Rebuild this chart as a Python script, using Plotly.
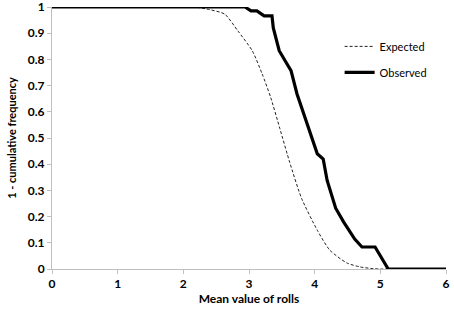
import plotly.graph_objects as go

# Expected curve
exp_x = [0, 1, 2, 2.2, 2.4, 2.63, 2.83, 3.05, 3.2, 3.33, 3.47, 3.62, 3.8, 4.04, 4.23, 4.49, 4.69, 4.9, 5, 6]
exp_y = [1, 1, 1, 0.999, 0.99, 0.973, 0.909, 0.833, 0.745, 0.655, 0.536, 0.407, 0.27, 0.148, 0.072, 0.023, 0.008, 0.001, 0, 0]

# Observed curve
obs_x = [0, 2.94, 3.03, 3.12, 3.23, 3.35, 3.37, 3.46, 3.55, 3.64, 3.73, 3.82, 3.90, 3.97, 4.04,
         4.13, 4.19, 4.32, 4.44, 4.61, 4.72, 4.92, 5.12, 6]
obs_y = [1, 1, 0.985, 0.985, 0.966, 0.966, 0.92, 0.833, 0.795, 0.757, 0.669, 0.605, 0.54, 0.49, 0.44,
         0.42, 0.338, 0.232, 0.18, 0.114, 0.084, 0.084, 0, 0]

x_ticks = [0, 1, 2, 3, 4, 5, 6]
y_ticks = [0, 0.1, 0.2, 0.3, 0.4, 0.5, 0.6, 0.7, 0.8, 0.9, 1]
y_labels = ["0", "0.1", "0.2", "0.3", "0.4", "0.5", "0.6", "0.7", "0.8", "0.9", "1"]

FONT = "Lato, 'Open Sans', sans-serif"

fig = go.Figure()
fig.add_trace(go.Scatter(x=exp_x, y=exp_y, mode="lines", name="Expected",
                         legendgroup="a",
                         line=dict(color="#222222", width=1, dash="3px,2px",
                                   shape="spline", smoothing=0.6)))
fig.add_trace(go.Scatter(x=obs_x, y=obs_y, mode="lines", name="Observed",
                         legendgroup="b",
                         line=dict(color="#000000", width=3.2)))

fig.update_layout(
    width=454, height=312,
    margin=dict(l=52, r=8, t=7, b=43, autoexpand=False),
    paper_bgcolor="white", plot_bgcolor="white",
    font=dict(family=FONT, color="#000000"),
    legend=dict(x=0.73, y=0.905, xanchor="left", yanchor="top",
                font=dict(size=11, family=FONT), tracegroupgap=7,
                bgcolor="rgba(0,0,0,0)"),
    xaxis=dict(range=[0, 6], tickvals=x_ticks, ticktext=[str(t) for t in x_ticks],
               showgrid=False, zeroline=False, showline=True, linecolor="#bfbfbf", linewidth=1,
               ticks="outside", ticklen=4, tickcolor="#bfbfbf", ticklabeloverflow="allow",
               tickfont=dict(size=12, family=FONT, weight="bold"),
               title=dict(text="<b>Mean value of rolls</b>", font=dict(size=12, family=FONT), standoff=4)),
    yaxis=dict(range=[0, 1], tickvals=y_ticks, ticktext=y_labels,
               showgrid=False, zeroline=False, showline=True, linecolor="#bfbfbf", linewidth=1,
               ticks="outside", ticklen=4, tickcolor="#bfbfbf", ticklabeloverflow="allow",
               tickfont=dict(size=12, family=FONT, weight="bold"),
               title=dict(text="<b>1 - cumulative frequency</b>", font=dict(size=11, family=FONT), standoff=8)),
)

fig.write_html("out.html", config={"displayModeBar": False},
               post_script="document.body.style.margin='0';document.body.style.overflow='hidden';")
